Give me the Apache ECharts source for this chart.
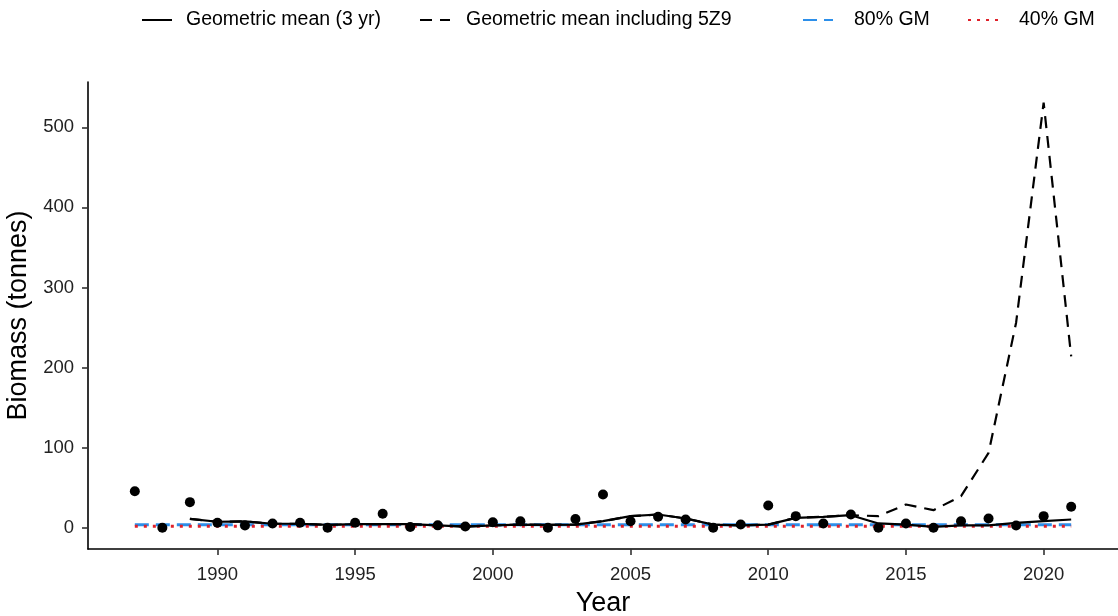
<!DOCTYPE html>
<html>
<head>
<meta charset="utf-8">
<script src="https://cdn.jsdelivr.net/npm/echarts@6/dist/echarts.min.js"></script>
<style>
html,body{margin:0;padding:0;background:#fff;}
#chart{width:1118px;height:616px;}
</style>
</head>
<body>
<div id="chart"></div>
<script>
// Data
const years = [1987,1988,1989,1990,1991,1992,1993,1994,1995,1996,1997,1998,1999,2000,2001,2002,2003,2004,2005,2006,2007,2008,2009,2010,2011,2012,2013,2014,2015,2016,2017,2018,2019,2020,2021];
const biomass = [45.6,0,32,6.2,2.9,5.4,6.2,0,6.2,17.4,1,3,1.5,7,8.2,0,11,41.5,8.2,13.7,10.3,0,4.1,27.8,14.5,5.4,16.6,0,5.4,0,8.2,11.6,2.9,14.5,26.2];
const gm3 = [null,null,11,7.5,8,5,5,3.7,4.5,4.5,4.5,3,1.5,3,4,3.7,4,8.2,14.5,16.6,11.6,4,3,4,12.4,13.7,15.7,5.4,4,1.2,3,3,6.2,8.2,10.3];
const gm5z9 = [null,null,11,7.5,8,5,5,3.7,4.5,4.5,4.5,3,1.5,3,4,3.7,4,8.2,14.5,16.6,11.6,4,3,4,12.4,13.7,15.7,14.5,29,22,39.4,93.5,256,530.7,214];
const gm80 = 3.7;
const gm40 = 1.85;
const xTicks = [1990,1995,2000,2005,2010,2015,2020];
const yTicks = [0,100,200,300,400,500];

const pts = years.map((y,i)=>[y,biomass[i]]);
const solid = years.map((y,i)=>[y,gm3[i]]);
const dashed = years.map((y,i)=>[y,gm5z9[i]]);
const line80 = years.map(y=>[y,gm80]);
const line40 = years.map(y=>[y,gm40]);

const font = 'Liberation Sans, Arial, sans-serif';
function lg(left, name, pad){
  return {left:left, top:5, data:[name], itemWidth:30, itemHeight:14, itemGap:0,
    itemStyle:{opacity:0},
    textStyle:{fontFamily:font,fontSize:19.5,color:'#000',padding:[0,0,0,pad]}};
}

const chart = echarts.init(document.getElementById('chart'));
chart.setOption({
  animation:false,
  backgroundColor:'#fff',
  grid:{left:88,right:0,top:82,bottom:67,containLabel:false,outerBoundsMode:'none'},
  legend:[
    lg(136,'Geometric mean (3 yr)',9),
    lg(414,'Geometric mean including 5Z9',11),
    lg(797,'80% GM',16),
    lg(962,'40% GM',16)
  ],
  xAxis:{type:'value',min:1985.3,max:2022.7,
    name:'Year',nameLocation:'middle',nameGap:41,
    nameTextStyle:{fontFamily:font,fontSize:27,color:'#000'},
    splitLine:{show:false},
    axisLine:{onZero:false,lineStyle:{color:'#000',width:1.6}},
    axisTick:{customValues:xTicks,length:6,lineStyle:{color:'#333',width:1.6}},
    axisLabel:{customValues:xTicks,formatter:v=>String(v),fontFamily:font,fontSize:18.5,color:'#222',margin:16}
  },
  yAxis:{type:'value',min:-26.5,max:556.5,
    name:'Biomass (tonnes)',nameLocation:'middle',nameGap:46,nameRotate:90,
    nameTextStyle:{fontFamily:font,fontSize:27,color:'#000'},
    splitLine:{show:false},
    axisLine:{show:true,onZero:false,lineStyle:{color:'#000',width:1.6}},
    axisTick:{show:true,customValues:yTicks,length:6,lineStyle:{color:'#333',width:1.6}},
    axisLabel:{customValues:yTicks,formatter:v=>String(v),fontFamily:font,fontSize:18.5,color:'#222',margin:14}
  },
  series:[
    {name:'80% GM',type:'line',data:line80,symbol:'none',z:2,
      lineStyle:{color:'#2C8FEA',width:3,type:[14,7]},itemStyle:{color:'#2C8FEA'}},
    {name:'40% GM',type:'line',data:line40,symbol:'none',z:3,
      lineStyle:{color:'#E0202A',width:3,type:[3,6]},itemStyle:{color:'#E0202A'}},
    {name:'Geometric mean including 5Z9',type:'line',data:dashed,symbol:'none',z:4,
      lineStyle:{color:'#000',width:2.2,type:[12,8]},itemStyle:{color:'#000'}},
    {name:'Geometric mean (3 yr)',type:'line',data:solid,symbol:'none',z:5,
      lineStyle:{color:'#000',width:2.2},itemStyle:{color:'#000'}},
    {name:'Biomass',type:'scatter',data:pts,symbol:'circle',symbolSize:10,z:6,
      itemStyle:{color:'#000',opacity:1}}
  ]
});
</script>
</body>
</html>
